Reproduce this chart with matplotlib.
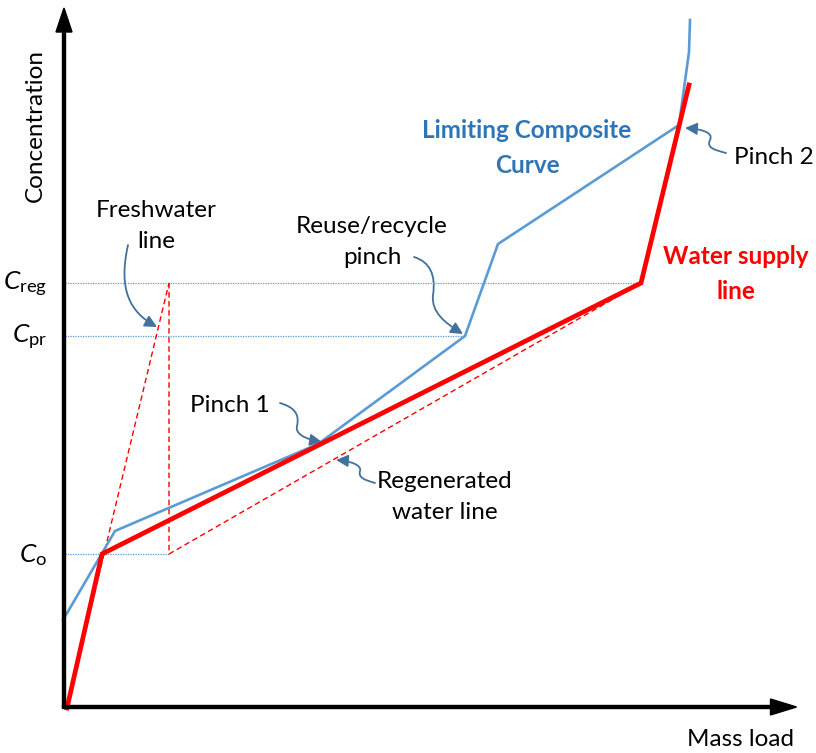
import matplotlib.pyplot as plt
import numpy as np
from matplotlib.path import Path
from matplotlib.patches import FancyArrowPatch

plt.rcParams['font.family'] = ['Lato', 'DejaVu Sans']
plt.rcParams['mathtext.fontset'] = 'custom'
plt.rcParams['mathtext.rm'] = 'Lato'
plt.rcParams['mathtext.it'] = 'Lato:italic'

# concentration levels
c_o = 15.4
c_pr = 37.2
c_reg = 42.5

# limiting composite curve (mass load, concentration)
lcc_x = [-0.2, 5.0, 25.3, 40.0, 43.3, 61.4, 62.4, 62.5]
lcc_y = [8.8, 17.7, 26.4, c_pr, 46.4, 58.3, 65.6, 68.8]

# water supply line
ws_x = [0.2, 3.7, 57.6, 62.4]
ws_y = [0.0, c_o, c_reg, 62.3]

# freshwater / regenerated water lines
fw_x = [0.2, 10.4]
fw_y = [0.0, c_reg]
regen_x = [10.4, 10.4, 57.6]
regen_y = [c_reg, c_o, c_reg]

level_ends = [57.6, 40.0, 10.4]
level_vals = [c_reg, c_pr, c_o]
level_labels = [r'$C_{\mathrm{reg}}$', r'$C_{\mathrm{pr}}$', r'$C_{\mathrm{o}}$']

blue = '#5B9BD5'
pointer_col = '#41719C'

fig = plt.figure(figsize=(8.16, 7.53), dpi=100)
ax = fig.add_axes([0, 0, 1, 1])
ax.set_xlim(-6.5, 75.1)
ax.set_ylim(-4.5, 70.8)
ax.axis('off')

# axes drawn as arrows
ax.arrow(-0.1, 0, 0, 70.0, width=0.3, head_width=1.6, head_length=2.4,
         length_includes_head=True, color='black', zorder=5)
ax.arrow(-0.25, 0.1, 73.4, 0, width=0.3, head_width=1.6, head_length=2.6,
         length_includes_head=True, color='black', zorder=5)

# dotted concentration levels
for xe, yv, lab in zip(level_ends, level_vals, level_labels):
    ax.plot([0, xe], [yv, yv], color=blue, lw=0.9, ls=(0, (1, 1)))
    ax.text(-1.8, yv - 0.1, lab, ha='right', va='center', fontsize=19)

ax.plot(fw_x, fw_y, color='red', lw=1.0, ls=(0, (4, 2.5)))
ax.plot(regen_x, regen_y, color='red', lw=1.0, ls=(0, (4, 2.5)))
ax.plot(lcc_x, lcc_y, color=blue, lw=1.9, solid_joinstyle='miter')
ax.plot(ws_x, ws_y, color='red', lw=3.4, solid_joinstyle='miter')


def pointer(tip, pts):
    # wavy callout: cubic bezier segments, offsets relative to the tip
    verts = [(tip[0] + dx, tip[1] + dy) for dx, dy in pts] + [tip]
    codes = [Path.MOVETO] + [Path.CURVE4] * (len(verts) - 1)
    arr = FancyArrowPatch(path=Path(verts, codes),
                          arrowstyle='-|>,head_length=0.6,head_width=0.3',
                          mutation_scale=12, color=pointer_col, lw=1.3)
    ax.add_patch(arr)


pointer((9.2, 38.1), [(-2.9, 8.2), (-3.9, 3.7), (-2.7, 1.5)])
pointer((39.8, 37.4), [(-4.9, 7.7), (-3.3, 7.2), (-2.7, 5.9), (-3.0, 3.9),
                       (-3.2, 2.2), (-1.8, 1.1)])
pointer((25.7, 26.6), [(-4.2, 3.9), (-2.9, 3.5), (-2.2, 2.9), (-2.5, 1.6),
                       (-2.7, 0.8), (-1.7, 0.3)])
pointer((27.1, 24.8), [(3.9, -2.3), (2.9, -2.0), (2.2, -1.8), (2.4, -1.1),
                       (2.6, -0.5), (1.4, -0.1)])
pointer((62.0, 58.0), [(4.1, -2.5), (3.0, -2.2), (2.1, -2.0), (2.5, -1.2),
                       (2.9, -0.4), (1.5, -0.1)])

fs = 17.5
ls = 1.6
ax.text(-3.0, 58.3, 'Concentration', rotation=90, ha='center', va='center', fontsize=fs)
ax.text(67.5, -3.2, 'Mass load', ha='center', va='center', fontsize=fs)
ax.text(9.1, 48.2, 'Freshwater\nline', ha='center', va='center', fontsize=fs,
        linespacing=ls)
ax.text(30.7, 46.6, 'Reuse/recycle\npinch', ha='center', va='center', fontsize=fs,
        linespacing=ls)
ax.text(46.2, 56.0, 'Limiting Composite\nCurve', ha='center', va='center',
        fontsize=fs, fontweight='bold', color='#2E75B6', linespacing=ls)
ax.text(66.9, 55.1, 'Pinch 2', ha='left', va='center', fontsize=fs)
ax.text(67.1, 43.4, 'Water supply\nline', ha='center', va='center', fontsize=fs,
        fontweight='bold', color='red', linespacing=ls)
ax.text(16.5, 30.3, 'Pinch 1', ha='center', va='center', fontsize=fs)
ax.text(38.0, 21.1, 'Regenerated\nwater line', ha='center', va='center',
        fontsize=fs, linespacing=ls)

plt.savefig('out.png', dpi=100)
